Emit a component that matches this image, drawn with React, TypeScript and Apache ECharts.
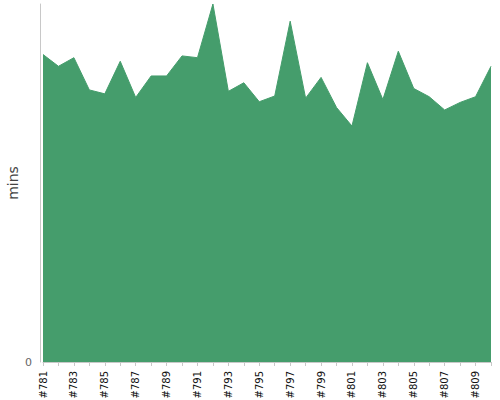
import React, { useEffect, useRef } from "react";
import * as echarts from "echarts";

const builds = [
  "#781", "#782", "#783", "#784", "#785", "#786", "#787", "#788", "#789", "#790",
  "#791", "#792", "#793", "#794", "#795", "#796", "#797", "#798", "#799", "#800",
  "#801", "#802", "#803", "#804", "#805", "#806", "#807", "#808", "#809", "#810",
];
const durations = [
  85.9, 82.6, 85.0, 76.0, 74.9, 84.0, 73.9, 79.9, 79.9, 85.5,
  85.0, 100, 75.6, 78.0, 72.7, 74.3, 95.2, 73.7, 79.5, 71.1,
  65.9, 83.6, 73.3, 86.8, 76.4, 74.1, 70.4, 72.5, 74.1, 82.6,
];
const yMax = 100;
const FONT = "'DejaVu Sans', Verdana, sans-serif";

export default function App() {
  const ref = useRef<HTMLDivElement>(null);
  useEffect(() => {
    if (!ref.current) return;
    const chart = echarts.init(ref.current, null, { renderer: "svg" });
    chart.setOption({
      animation: false,
      textStyle: { fontFamily: FONT },
      grid: { left: 43, right: 9, top: 4, bottom: 38, containLabel: false, outerBoundsMode: "none" },
      xAxis: {
        type: "category",
        data: builds,
        boundaryGap: false,
        offset: 2,
        axisLine: { lineStyle: { color: "#c8c8c8" } },
        axisTick: { show: true, interval: 0, length: 4, lineStyle: { color: "#c8c8c8" } },
        axisLabel: {
          rotate: 90,
          interval: 1,
          margin: 7,
          fontSize: 10,
          color: "#111",
          fontFamily: FONT,
        },
        splitLine: { show: false },
      },
      yAxis: {
        type: "value",
        min: 0,
        max: yMax,
        interval: yMax,
        offset: 3,
        name: "mins",
        nameLocation: "middle",
        nameGap: 20,
        nameMoveOverlap: false,
        nameTextStyle: { fontSize: 14, color: "#444", fontFamily: FONT },
        axisLine: { show: true, lineStyle: { color: "#c8c8c8" } },
        axisTick: { show: false },
        axisLabel: {
          showMaxLabel: false,
          margin: 8,
          fontSize: 11,
          color: "#666",
          fontFamily: FONT,
        },
        splitLine: { show: false },
      },
      series: [
        {
          type: "line",
          data: durations,
          symbol: "none",
          lineStyle: { width: 1, color: "#459d6c" },
          itemStyle: { color: "#459d6c" },
          areaStyle: { color: "#459d6c", opacity: 1 },
        },
      ],
    });
    return () => chart.dispose();
  }, []);
  return <div ref={ref} style={{ width: 500, height: 400, position: "absolute", left: 0, top: 0 }} />;
}
